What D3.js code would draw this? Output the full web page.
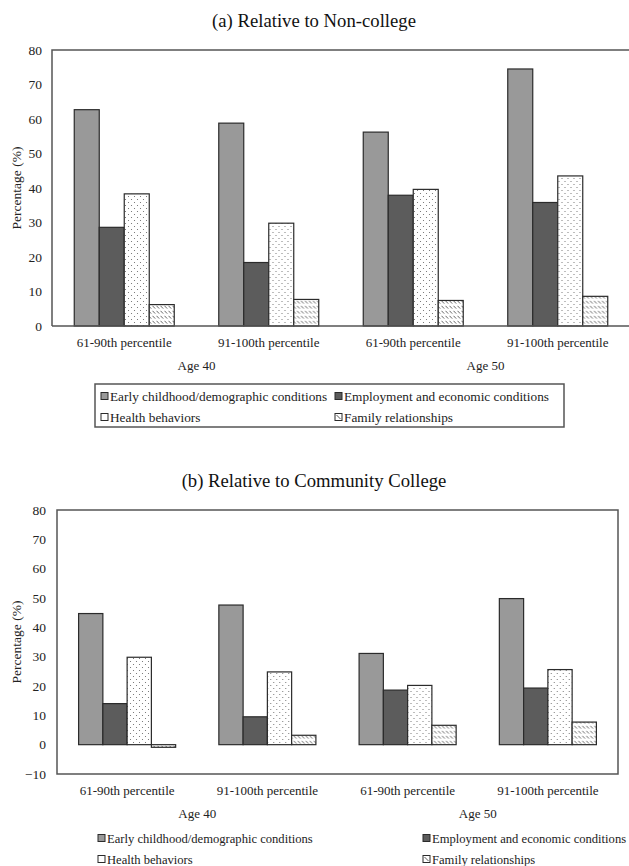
<!DOCTYPE html>
<html>
<head>
<meta charset="utf-8">
<script src="https://cdn.jsdelivr.net/npm/d3@7"></script>
<style>
  html, body { margin: 0; padding: 0; background: #fff; }
</style>
</head>
<body>
<script>
// Percentile groups along the x axis, two per age
const groups = ["61-90th percentile", "91-100th percentile", "61-90th percentile", "91-100th percentile"];
const ages = ["Age 40", "Age 50"];
const seriesNames = [
  "Early childhood/demographic conditions",
  "Employment and economic conditions",
  "Health behaviors",
  "Family relationships"
];

// (a) Relative to Non-college
const ncEarly = [62.7, 58.8, 56.2, 74.5];
const ncEmployment = [28.6, 18.4, 37.9, 35.8];
const ncHealth = [38.3, 29.8, 39.6, 43.5];
const ncFamily = [6.2, 7.7, 7.4, 8.6];

// (b) Relative to Community College
const ccEarly = [44.7, 47.6, 31.1, 49.8];
const ccEmployment = [14.0, 9.5, 18.6, 19.3];
const ccHealth = [29.8, 24.8, 20.2, 25.6];
const ccFamily = [-0.9, 3.2, 6.6, 7.7];

const yTicksA = [0, 10, 20, 30, 40, 50, 60, 70, 80];
const yTicksB = [-10, 0, 10, 20, 30, 40, 50, 60, 70, 80];

const FONT = "'Liberation Serif'";
const W = 629, H = 866;
const svg = d3.select("body").append("svg").attr("width", W).attr("height", H);
svg.append("rect").attr("width", W).attr("height", H).attr("fill", "#fff");

// fill patterns
const defs = svg.append("defs");
const dots = defs.append("pattern").attr("id", "dots")
  .attr("patternUnits", "userSpaceOnUse").attr("width", 6).attr("height", 6);
dots.append("rect").attr("width", 6).attr("height", 6).attr("fill", "#fff");
dots.append("circle").attr("cx", 1.5).attr("cy", 1.5).attr("r", 0.55).attr("fill", "#666");
dots.append("circle").attr("cx", 4.5).attr("cy", 4.5).attr("r", 0.55).attr("fill", "#666");

const hatch = defs.append("pattern").attr("id", "hatch")
  .attr("patternUnits", "userSpaceOnUse").attr("width", 4).attr("height", 5);
hatch.append("rect").attr("width", 4).attr("height", 5).attr("fill", "#fff");
hatch.append("line").attr("x1", 0.5).attr("y1", 0.8).attr("x2", 3.2).attr("y2", 3.6)
  .attr("stroke", "#555").attr("stroke-width", 0.9);

const fills = ["#999999", "#5c5c5c", "url(#dots)", "url(#hatch)"];
const barStroke = "#2b2b2b";

function label(g, x, y, txt, size, anchor) {
  return g.append("text").attr("x", x).attr("y", y)
    .attr("text-anchor", anchor || "start")
    .style("font-family", FONT).style("font-size", size + "px")
    .attr("fill", "#222").text(txt);
}

function drawPanel(cfg) {
  const g = svg.append("g");
  const y = d3.scaleLinear().domain(cfg.domain).range([cfg.bottom, cfg.top]);
  const x0 = d3.scaleBand().domain(d3.range(groups.length)).range([cfg.left, cfg.right]);
  const bw = x0.bandwidth();
  const gw = bw * 0.692;
  const x1 = d3.scaleBand().domain(d3.range(seriesNames.length))
    .range([(bw - gw) / 2, (bw + gw) / 2]);

  // title
  label(g, 314, cfg.titleY, cfg.title, 18.7, "middle").attr("fill", "#111");

  // frame
  g.append("path")
    .attr("d", cfg.frame(y))
    .attr("fill", "none").attr("stroke", "#555").attr("stroke-width", 1.5);

  // y axis labels
  const yAxis = d3.axisLeft(y).tickValues(cfg.ticks).tickSize(0).tickPadding(cfg.tickPad);
  const ya = g.append("g").attr("transform", `translate(${cfg.left},0)`).call(yAxis);
  ya.select(".domain").remove();
  ya.selectAll("text").attr("fill", "#222")
    .style("font-family", FONT).style("font-size", "13.5px");

  label(g, 0, 0, "Percentage (%)", 13.5, "middle")
    .attr("transform", `translate(${cfg.yTitleX},${(cfg.top + cfg.bottom) / 2}) rotate(-90)`);

  // bars
  const seriesVals = cfg.series;
  groups.forEach((name, i) => {
    const gg = g.append("g").attr("transform", `translate(${x0(i)},0)`);
    gg.selectAll("rect").data(seriesVals.map((s, k) => ({ k, v: s[i] }))).join("rect")
      .attr("x", d => x1(d.k))
      .attr("width", x1.bandwidth())
      .attr("y", d => y(Math.max(0, d.v)))
      .attr("height", d => Math.abs(y(d.v) - y(0)))
      .attr("fill", d => fills[d.k])
      .attr("stroke", barStroke).attr("stroke-width", 1.2);
    label(g, x0(i) + bw / 2, cfg.catY, name, 13, "middle");
  });

  ages.forEach((a, j) => {
    const cx = (x0(2 * j) + x0(2 * j + 1) + bw) / 2;
    label(g, cx, cfg.ageY, a, 13, "middle");
  });

  // baseline for the top panel
  if (cfg.baseline) {
    g.append("line").attr("x1", cfg.left).attr("x2", cfg.right)
      .attr("y1", y(0)).attr("y2", y(0))
      .attr("stroke", "#555").attr("stroke-width", 1.5);
  }

  // legend
  const L = cfg.legend;
  if (L.box) {
    g.append("rect").attr("x", L.box[0]).attr("y", L.box[1])
      .attr("width", L.box[2]).attr("height", L.box[3])
      .attr("fill", "none").attr("stroke", "#555").attr("stroke-width", 1.5);
  }
  seriesNames.forEach((s, k) => {
    const lx = L.cols[k % 2], ly = L.rows[Math.floor(k / 2)];
    g.append("rect").attr("x", lx).attr("y", ly - 3.5).attr("width", 7).attr("height", 7)
      .attr("fill", k >= 2 ? "#fff" : fills[k])
      .attr("stroke", barStroke).attr("stroke-width", 1);
    if (k === 3) {
      g.append("line").attr("x1", lx + 1.5).attr("y1", ly - 2).attr("x2", lx + 5.5).attr("y2", ly + 2)
        .attr("stroke", "#444").attr("stroke-width", 0.9);
    }
    label(g, lx + 9, ly + 4.5, s, L.size);
  });
}

// panel (a)
drawPanel({
  title: "(a) Relative to Non-college", titleY: 27,
  domain: [0, 80], ticks: yTicksA,
  left: 52, right: 630, top: 50, bottom: 326,
  tickPad: 10, yTitleX: 21,
  series: [ncEarly, ncEmployment, ncHealth, ncFamily],
  catY: 347, ageY: 370, baseline: true,
  frame: y => `M52,${y(0)}V${y(80)}H632`,
  legend: { box: [95, 384, 469, 43], cols: [101, 335], rows: [396, 417], size: 13.3 }
});

// panel (b)
drawPanel({
  title: "(b) Relative to Community College", titleY: 487,
  domain: [-10, 80], ticks: yTicksB,
  left: 57, right: 618, top: 510, bottom: 774,
  tickPad: 11, yTitleX: 21,
  series: [ccEarly, ccEmployment, ccHealth, ccFamily],
  catY: 795, ageY: 818, baseline: false,
  frame: y => `M57,${y(-10)}V${y(80)}H618V${y(-10)}Z`,
  legend: { box: null, cols: [98, 423], rows: [838, 859], size: 12.6 }
});
</script>
</body>
</html>
